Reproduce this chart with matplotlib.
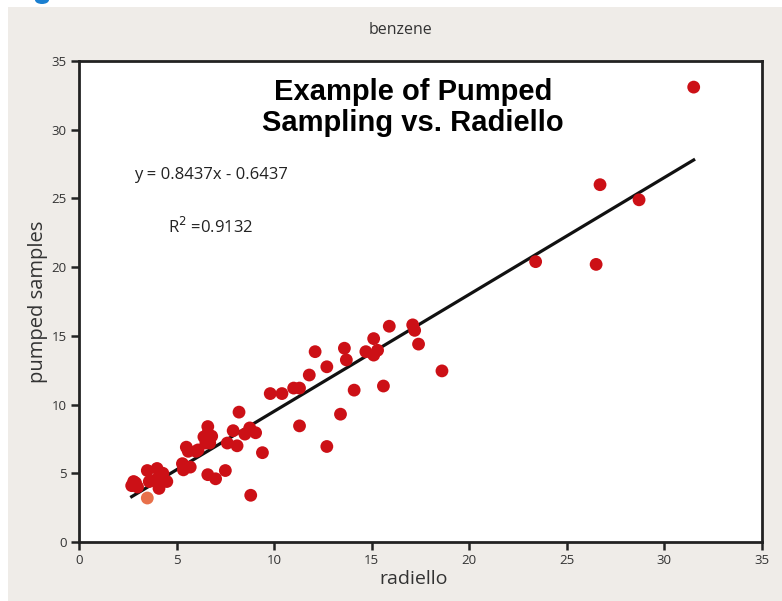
import matplotlib
matplotlib.use('Agg')
import matplotlib.pyplot as plt
from matplotlib.patches import Rectangle, Ellipse
import numpy as np

# radiello vs pumped samples (benzene)
radiello = [2.7, 2.8, 2.9, 3.0, 3.5, 3.6, 3.9, 4.0, 4.1, 4.15, 4.3, 4.5,
            5.3, 5.35, 5.5, 5.6, 5.7, 6.0, 6.1, 6.4, 6.5, 6.6, 6.6, 6.7,
            6.8, 6.6, 7.0, 7.5, 7.6, 7.9, 8.1, 8.2, 8.5, 8.75, 9.05, 9.4,
            8.8, 9.8, 10.4, 11.0, 11.3, 11.3, 11.8, 12.1, 12.7, 12.7, 13.4,
            13.6, 13.7, 14.1, 14.7, 15.1, 15.1, 15.3, 15.6, 15.9, 17.1,
            17.2, 17.4, 18.6, 23.4, 26.5, 26.7, 28.7, 31.5]
pumped = [4.1, 4.4, 4.3, 4.0, 5.2, 4.4, 4.5, 5.35, 3.9, 4.9, 5.0, 4.4,
          5.7, 5.25, 6.9, 6.6, 5.45, 6.6, 6.7, 7.65, 7.2, 8.4, 7.9, 7.2,
          7.7, 4.9, 4.6, 5.2, 7.2, 8.1, 7.0, 9.45, 7.85, 8.3, 7.95, 6.5,
          3.4, 10.8, 10.8, 11.2, 11.2, 8.45, 12.15, 13.85, 12.75, 6.95, 9.3,
          14.1, 13.25, 11.05, 13.85, 14.8, 13.6, 13.95, 11.35, 15.7, 15.8,
          15.4, 14.4, 12.45, 20.4, 20.2, 26.0, 24.9, 33.1]
faded_x = [3.5]
faded_y = [3.2]

# fitted line as drawn in the picture
line_x = [2.7, 31.5]
line_y = [3.3, 27.8]

ticks = [0, 5, 10, 15, 20, 25, 30, 35]

plt.rcParams['font.family'] = ['Liberation Sans Narrow', 'Open Sans', 'DejaVu Sans']

fig = plt.figure(figsize=(7.82, 6.01), dpi=100, facecolor='white')

# grey panel behind the chart
fig.patches.append(Rectangle((8 / 782, 0), 1, 1 - 7 / 601, transform=fig.transFigure,
                             facecolor='#efece8', edgecolor='none', zorder=-5))
fig.patches.append(Ellipse((42 / 782, 1.0), 14 / 782, 8 / 601, transform=fig.transFigure,
                           facecolor='#1a7fd0', edgecolor='none', zorder=-4))

ax = fig.add_axes([79 / 782, 59 / 601, 683 / 782, 481 / 601])
ax.set_facecolor('white')

ax.plot(line_x, line_y, color='#111111', linewidth=2.3, zorder=2)
ax.scatter(radiello, pumped, s=85, color='#cc1016', edgecolors='none', zorder=3)
ax.scatter(faded_x, faded_y, s=85, color='#e8704a', edgecolors='none', zorder=3)

ax.set_xlim(0, 35)
ax.set_ylim(0, 35)
ax.set_xticks(ticks)
ax.set_yticks(ticks)
ax.tick_params(direction='out', length=6, width=1.8, color='#222222',
               labelsize=9.5, labelcolor='#333333', pad=3)
for s in ax.spines.values():
    s.set_linewidth(2.0)
    s.set_color('#222222')

ax.set_xlabel('radiello', fontsize=14, color='#333333', labelpad=2, x=0.49)
ax.set_ylabel('pumped samples', fontsize=14.5, color='#333333', labelpad=2)

fig.text(400 / 782, 1 - 30 / 601, 'benzene', ha='center', va='center',
         fontsize=11.5, color='#333333')

ax.text(0.489, 0.904, 'Example of Pumped\nSampling vs. Radiello', transform=ax.transAxes,
        ha='center', va='center', fontsize=21, fontweight='bold',
        family=['Liberation Sans', 'DejaVu Sans'], color='black', linespacing=1.15)

ax.text(0.193, 0.763, 'y = 0.8437x - 0.6437', transform=ax.transAxes,
        ha='center', va='center', fontsize=12, color='#222222')
ax.text(0.193, 0.655, r'R$^2$ =0.9132', transform=ax.transAxes,
        ha='center', va='center', fontsize=12, color='#222222')

plt.savefig('out.png', dpi=100, facecolor=fig.get_facecolor())
